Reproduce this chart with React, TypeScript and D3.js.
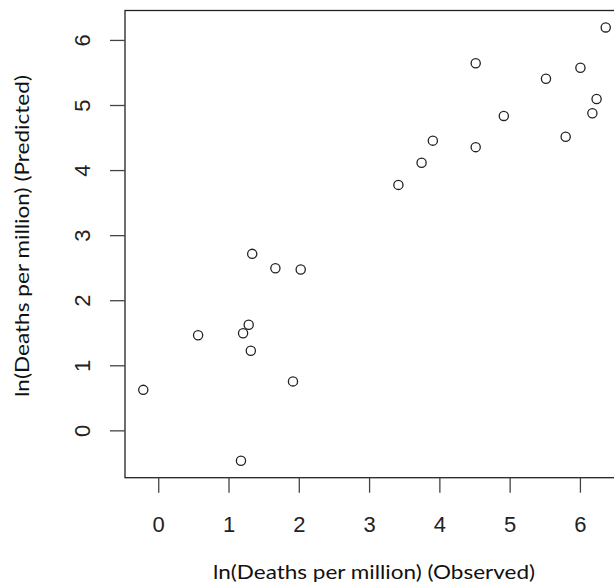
import React from "react";
import * as d3 from "d3";

const observed = [6.36, 4.51, 6.0, 5.51, 6.23, 6.17, 4.91, 5.79, 3.9, 4.51, 3.74, 3.41, 2.02, 1.33, 1.66, 0.56, 1.28, 1.2, 1.31, -0.22, 1.91, 1.17];
const predicted = [6.2, 5.65, 5.58, 5.41, 5.1, 4.88, 4.84, 4.52, 4.46, 4.36, 4.12, 3.78, 2.48, 2.72, 2.5, 1.47, 1.63, 1.5, 1.23, 0.63, 0.76, -0.46];
const xTicks = [0, 1, 2, 3, 4, 5, 6];
const yTicks = [0, 1, 2, 3, 4, 5, 6];
const xTitle = "ln(Deaths per million) (Observed)";
const yTitle = "ln(Deaths per million) (Predicted)";

const W = 614;
const H = 586;
const L = 125, R = 624, T = 10.5, B = 477.7;

export default function App() {
  const x = d3.scaleLinear().domain([-0.48, 6.62]).range([L, R]);
  const y = d3.scaleLinear().domain([-0.72, 6.46]).range([B, T]);
  const tickFont = "'Liberation Sans', Arial, sans-serif";
  const titleFont = "Lato, 'Open Sans', sans-serif";
  return (
    <svg width={W} height={H} style={{ position: "absolute", left: 0, top: 0, background: "#fff" }}>
      <rect x={0} y={0} width={W} height={H} fill="#fff" />
      <rect x={L} y={T} width={R - L} height={B - T} fill="none" stroke="#222" strokeWidth={1.3} />
      {xTicks.map((t) => (
        <g key={"x" + t}>
          <line x1={x(t)} x2={x(t)} y1={B} y2={B + 15} stroke="#444" strokeWidth={1.3} />
          <text x={x(t)} y={531.5} textAnchor="middle" fontFamily={tickFont} fontSize={22} fill="#222">
            {t}
          </text>
        </g>
      ))}
      {yTicks.map((t) => (
        <g key={"y" + t}>
          <line x1={L - 15} x2={L} y1={y(t)} y2={y(t)} stroke="#444" strokeWidth={1.3} />
          <text
            transform={`translate(90,${y(t)}) rotate(-90)`}
            textAnchor="middle"
            fontFamily={tickFont}
            fontSize={22}
            fill="#222"
          >
            {t}
          </text>
        </g>
      ))}
      {observed.map((v, i) => (
        <circle key={i} cx={x(v)} cy={y(predicted[i])} r={4.6} fill="none" stroke="#222" strokeWidth={1.3} />
      ))}
      <text x={374} y={579} textAnchor="middle" fontFamily={titleFont} fontSize={20} fill="#111" textLength={322} lengthAdjust="spacingAndGlyphs">
        {xTitle}
      </text>
      <text
        transform={`translate(29,236) rotate(-90)`}
        textAnchor="middle"
        fontFamily={titleFont}
        fontSize={20}
        fill="#111"
        textLength={322}
        lengthAdjust="spacingAndGlyphs"
      >
        {yTitle}
      </text>
    </svg>
  );
}
